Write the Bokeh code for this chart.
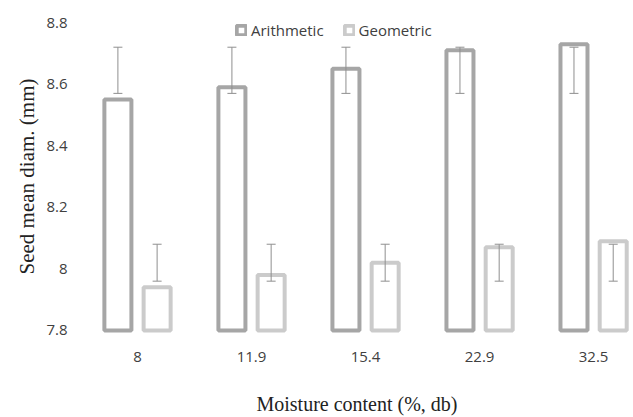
import numpy as np
from bokeh.plotting import figure
from bokeh.models import (ColumnDataSource, Range1d, FixedTicker, Whisker, TeeHead,
                          Legend, LegendItem)
from bokeh.transform import dodge
from bokeh.embed import file_html
from bokeh.resources import INLINE

# ---- data ----
categories = ["8", "11.9", "15.4", "22.9", "32.5"]
arithmetic = [8.55, 8.59, 8.65, 8.71, 8.73]
arith_lower = [8.57, 8.57, 8.57, 8.57, 8.57]
arith_upper = [8.72, 8.72, 8.72, 8.72, 8.72]
geometric = [7.94, 7.98, 8.02, 8.07, 8.09]
geo_lower = [7.96, 7.96, 7.96, 7.96, 7.96]
geo_upper = [8.08, 8.08, 8.08, 8.08, 8.08]
y_ticks = [7.8, 8.0, 8.2, 8.4, 8.6, 8.8]
y_tick_labels = ["7.8", "8", "8.2", "8.4", "8.6", "8.8"]
y_floor = 7.8

ARITH_COLOR = "#a6a6a6"
GEO_COLOR = "#cbcbcb"
ERR_COLOR = "#8f8f8f"
TEXT_COLOR = "#404040"

src = ColumnDataSource(dict(
    x=list(range(len(categories))),
    arith=arithmetic, al=arith_lower, au=arith_upper,
    geo=geometric, gl=geo_lower, gu=geo_upper,
))

p = figure(width=633, height=417, output_backend="svg", toolbar_location=None,
           x_range=Range1d(-0.5, 4.35), y_range=Range1d(7.79, 8.81),
           min_border_left=80, min_border_right=0, min_border_top=19,
           min_border_bottom=82)
p.outline_line_color = None
p.grid.visible = False
p.background_fill_color = "white"

off = 0.172
bw = 0.237
r1 = p.vbar(x=dodge("x", -off, range=p.x_range), top="arith", bottom=y_floor, width=bw,
            source=src, fill_color="white", line_color=ARITH_COLOR, line_width=4)
r2 = p.vbar(x=dodge("x", off, range=p.x_range), top="geo", bottom=y_floor, width=bw,
            source=src, fill_color="white", line_color=GEO_COLOR, line_width=4)

for base, lo, hi in [(dodge("x", -off, range=p.x_range), "al", "au"),
                     (dodge("x", off, range=p.x_range), "gl", "gu")]:
    w = Whisker(base=base, lower=lo, upper=hi, source=src, level="overlay",
                line_color=ERR_COLOR, line_width=1,
                upper_head=TeeHead(size=9, line_color=ERR_COLOR, line_width=1),
                lower_head=TeeHead(size=9, line_color=ERR_COLOR, line_width=1))
    p.add_layout(w)

legend = Legend(items=[LegendItem(label="Arithmetic", renderers=[r1]),
                       LegendItem(label="Geometric", renderers=[r2])],
                orientation="horizontal", location=(155, 293),
                glyph_width=12, glyph_height=12, label_standoff=4, spacing=19,
                padding=0, margin=0, border_line_alpha=0, background_fill_alpha=0,
                label_text_font="Open Sans", label_text_font_size="15px",
                label_text_color=TEXT_COLOR)
p.add_layout(legend)

# axes
p.xaxis.ticker = FixedTicker(ticks=list(range(len(categories))))
p.xaxis.major_label_overrides = {i: c for i, c in enumerate(categories)}
p.yaxis.ticker = FixedTicker(ticks=y_ticks)
p.yaxis.major_label_overrides = dict(zip(y_ticks, y_tick_labels))
for ax in (p.xaxis, p.yaxis):
    ax.axis_line_color = None
    ax.major_tick_line_color = None
    ax.minor_tick_line_color = None
    ax.major_label_text_font = "Open Sans"
    ax.major_label_text_font_size = "15px"
    ax.major_label_text_color = TEXT_COLOR
    ax.axis_label_text_font = "Liberation Serif"
    ax.axis_label_text_font_style = "normal"
    ax.axis_label_text_color = "#222222"

p.xaxis.axis_label = "Moisture content (%, db)"
p.xaxis.axis_label_text_font_size = "20px"
p.xaxis.major_label_standoff = 12
p.xaxis.axis_label_standoff = 28

p.yaxis.axis_label = "Seed mean diam. (mm)"
p.yaxis.axis_label_text_font_size = "21px"
p.yaxis.major_label_standoff = 7
p.yaxis.axis_label_standoff = 4

open("out.html", "w").write(file_html(p, INLINE))
